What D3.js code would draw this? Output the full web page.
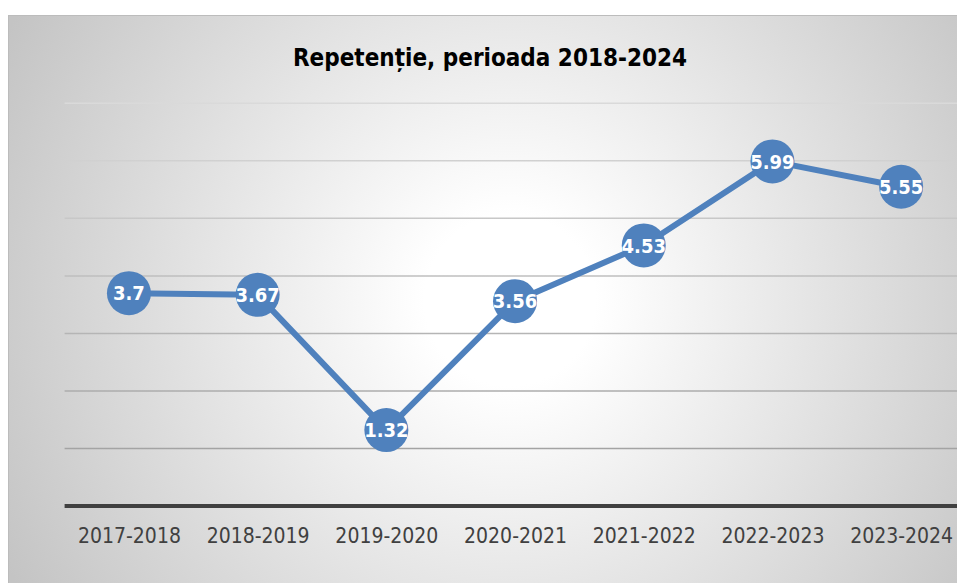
<!DOCTYPE html>
<html>
<head>
<meta charset="utf-8">
<script src="https://cdn.jsdelivr.net/npm/d3@7"></script>
<style>
  html, body { margin: 0; padding: 0; background: #ffffff; }
  svg { display: block; }
  .cond { font-family: "DejaVu Sans Condensed", "DejaVu Sans", sans-serif; font-stretch: condensed; }
</style>
</head>
<body>
<div id="chart"></div>
<script>
// ---- Data ----
var categories = ['2017-2018', '2018-2019', '2019-2020', '2020-2021', '2021-2022', '2022-2023', '2023-2024'];
var repetentie = [3.7, 3.67, 1.32, 3.56, 4.53, 5.99, 5.55];
var valueLabels = ['3.7', '3.67', '1.32', '3.56', '4.53', '5.99', '5.55'];
var gridTicks = [1, 2, 3, 4, 5, 6, 7];
var chartTitle = 'Repetenție, perioada 2018-2024';

var W = 957, H = 583;
var BLUE = '#4f81bd';

var svg = d3.select('#chart').append('svg')
  .attr('width', W)
  .attr('height', H);

var defs = svg.append('defs');

// Radial background, white in the middle, grey toward the edges
var bg = defs.append('radialGradient')
  .attr('id', 'bg')
  .attr('gradientUnits', 'userSpaceOnUse')
  .attr('cx', 510).attr('cy', 300).attr('r', 570);
bg.append('stop').attr('offset', 0).attr('stop-color', '#ffffff');
bg.append('stop').attr('offset', 0.15).attr('stop-color', '#ffffff');
bg.append('stop').attr('offset', 1).attr('stop-color', '#c4c4c4');

// Gridlines fade out toward the top
var gridGrad = defs.append('linearGradient')
  .attr('id', 'gridGrad')
  .attr('gradientUnits', 'userSpaceOnUse')
  .attr('x1', 0).attr('y1', 100).attr('x2', 0).attr('y2', 450);
gridGrad.append('stop').attr('offset', 0).attr('stop-color', '#dadada');
gridGrad.append('stop').attr('offset', 1).attr('stop-color', '#a3a3a3');

// Chart area (runs past the right/bottom edge of the picture)
svg.append('rect')
  .attr('x', 8.5).attr('y', 15.5)
  .attr('width', 1000).attr('height', 620)
  .attr('fill', 'url(#bg)')
  .attr('stroke', '#bcbcbc')
  .attr('stroke-width', 1);

// ---- Scales ----
var plotLeft = 64.6, plotRight = 965.5;
var x = d3.scalePoint()
  .domain(categories)
  .range([plotLeft, plotRight])
  .padding(0.5);

var y = d3.scaleLinear()
  .domain([0, 7])
  .range([506, 103.3]);

// ---- Gridlines ----
svg.append('g')
  .selectAll('line')
  .data(gridTicks)
  .enter()
  .append('line')
  .attr('x1', plotLeft).attr('x2', W)
  .attr('y1', function (d) { return y(d); })
  .attr('y2', function (d) { return y(d); })
  .attr('stroke', 'url(#gridGrad)')
  .attr('stroke-width', 1.5);

// ---- X axis ----
var xAxis = svg.append('g')
  .attr('transform', 'translate(0,' + y(0) + ')')
  .call(d3.axisBottom(x).tickSize(0).tickPadding(22));

xAxis.select('.domain').remove();
xAxis.append('line')
  .attr('x1', plotLeft).attr('x2', W)
  .attr('stroke', '#404040')
  .attr('stroke-width', 4);

xAxis.selectAll('.tick text')
  .attr('class', 'cond')
  .attr('fill', '#404040')
  .style('font-size', '21px');

// ---- Title ----
svg.append('text')
  .attr('class', 'cond')
  .attr('x', 490).attr('y', 66)
  .attr('text-anchor', 'middle')
  .attr('fill', '#000000')
  .style('font-size', '24px')
  .style('font-weight', 'bold')
  .text(chartTitle);

// ---- Line and markers ----
var line = d3.line()
  .x(function (d, i) { return x(categories[i]); })
  .y(function (d) { return y(d); });

svg.append('path')
  .datum(repetentie)
  .attr('d', line)
  .attr('fill', 'none')
  .attr('stroke', BLUE)
  .attr('stroke-width', 6)
  .attr('stroke-linejoin', 'round');

var points = svg.append('g')
  .selectAll('g')
  .data(repetentie)
  .enter()
  .append('g')
  .attr('transform', function (d, i) { return 'translate(' + x(categories[i]) + ',' + y(d) + ')'; });

points.append('circle')
  .attr('r', 22)
  .attr('fill', BLUE);

points.append('text')
  .attr('class', 'cond')
  .attr('text-anchor', 'middle')
  .attr('dy', '0.36em')
  .attr('fill', '#ffffff')
  .style('font-size', '20px')
  .style('font-weight', 'bold')
  .text(function (d, i) { return valueLabels[i]; });
</script>
</body>
</html>
